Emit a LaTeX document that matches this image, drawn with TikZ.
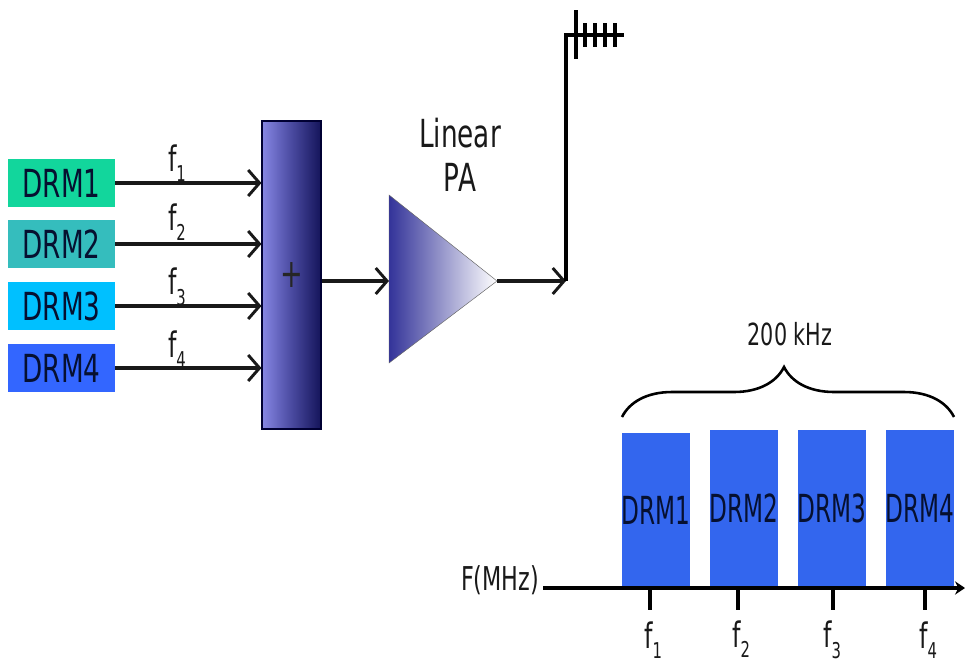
\documentclass[tikz,border=0pt]{standalone}
\usepackage{fontspec}
\usepackage{graphicx}
\usepackage{tikz}
\usetikzlibrary{arrows.meta,decorations.pathreplacing}
\setmainfont[FakeStretch=0.68]{DejaVu Sans}
\newfontfamily\barfont[FakeStretch=0.6]{DejaVu Sans}
\newcommand{\fsub}[1]{f\raisebox{-0.3em}{\scalebox{0.62}{#1}}}
\definecolor{drmgreen}{HTML}{12D69C}
\definecolor{drmteal}{HTML}{35BDBD}
\definecolor{drmcyan}{HTML}{00C0FF}
\definecolor{drmblue}{HTML}{3366FF}
\definecolor{barblue}{HTML}{3366EE}
\definecolor{inktext}{HTML}{061030}
\definecolor{adderleft}{HTML}{8686E4}
\definecolor{addermid}{HTML}{4A4AA0}
\definecolor{adderright}{HTML}{14145A}
\definecolor{paleft}{HTML}{333399}
\definecolor{pamid}{HTML}{9A9AC0}
\tikzset{
  sigarr/.style   = {-{Straight Barb[length=3.4mm,width=7.8mm,line width=2.5pt]},line width=2.7pt,black!90},
  drmbox/.style   = {minimum width=3.21cm,minimum height=1.46cm,inner sep=0pt,
                     font=\fontsize{33}{33}\selectfont,text=inktext},
  drmbar/.style   = {fill=barblue,minimum width=2.04cm,inner sep=0pt,
                     font=\fontsize{33}{33}\barfont,text=inktext},
  biglabel/.style = {inner sep=0pt,font=\fontsize{33}{38}\selectfont,text=black!90},
  freqlabel/.style= {inner sep=0pt,font=\fontsize{30}{30}\selectfont,text=black!90},
  axisarr/.style  = {-{Stealth[length=3mm,width=4mm]},line width=3.6pt,black},
  tickmark/.style = {line width=3.8pt,black},
  antline/.style  = {line width=2.6pt,black}
}

\begin{document}
\begin{tikzpicture}[x=0.03cm,y=-0.03cm]
  \useasboundingbox (0,0) rectangle (965,663);
  % baseband sources
  \foreach \name/\yy/\col in {1/183/drmgreen,2/244/drmteal,3/306/drmcyan,4/368/drmblue}
    \node[drmbox,fill=\col] (drm\name) at (61.5,\yy) {DRM\name};

  \node[draw=black!80!blue,line width=0.9pt,minimum width=1.77cm,minimum height=9.24cm,inner sep=0pt,
        left color=adderleft,right color=adderright,middle color=addermid,
        text=black!85,font=\fontsize{34}{34}\selectfont] (adder) at (291.5,275) {\raisebox{-0.06em}{+}};

  \foreach \name/\yy in {1/163,2/222,3/287,4/349}{
    \draw[sigarr] (drm\name) -- (drm\name -| adder.west);
    \node[freqlabel] (in\name) at (177,\yy) {\fsub{\name}};
  }

  % amplifier
  \coordinate (patop) at (389,195);
  \coordinate (pabot) at (389,363);
  \coordinate (paout) at (497,281);
  \coordinate (pain) at (patop |- paout);
  \shade[left color=paleft,middle color=pamid,right color=white,draw=black!60,thin]
        (patop) -- (paout) -- (pabot) -- cycle;
  \node[biglabel,align=center] (palabel) at (460,155) {Linear\\PA};
  \draw[sigarr] (adder.east |- paout) -- (pain);

  % antenna
  \coordinate (feed) at (566,281);
  \coordinate (mast) at (566,35);
  \coordinate (anttip) at (624,35);
  \draw[sigarr] (paout) -- (feed);
  \draw[antline] (feed) -- (mast) -- (anttip);
  \draw[antline] (576,10) -- (576,59);
  \foreach \xx in {585,595,605,615}
    \draw[antline] (\xx,23) -- (\xx,47);

  % spectrum
  \node[drmbar,minimum height=4.62cm] (bar1) at (656,510) {DRM1};
  \foreach \name/\xx in {2/744,3/832,4/920}
    \node[drmbar,minimum height=4.71cm] (bar\name) at (\xx,508.5) {DRM\name};

  \node[freqlabel,font=\fontsize{28}{28}\selectfont] (faxis) at (500,580) {F(MHz)};
  \coordinate (axisend) at (965,588);
  \draw[axisarr] (543,588) -- (axisend);
  \foreach \name/\xx/\lx/\ly in {1/650/653/640,2/738/741/639,3/833/832/640,4/925/928/640}{
    \draw[tickmark] (\xx,588) -- (\xx,610);
    \node[freqlabel] (out\name) at (\lx,\ly) {\fsub{\name}};
  }

  \draw[line width=2.2pt,black,decorate,decoration={brace,amplitude=1.5cm,aspect=0.512,mirror}]
        (954,417) -- (622,417);
  \node[freqlabel,font=\fontsize{26}{26}\selectfont] (bwlabel) at (790,334) {200 kHz};
\end{tikzpicture}
\end{document}
